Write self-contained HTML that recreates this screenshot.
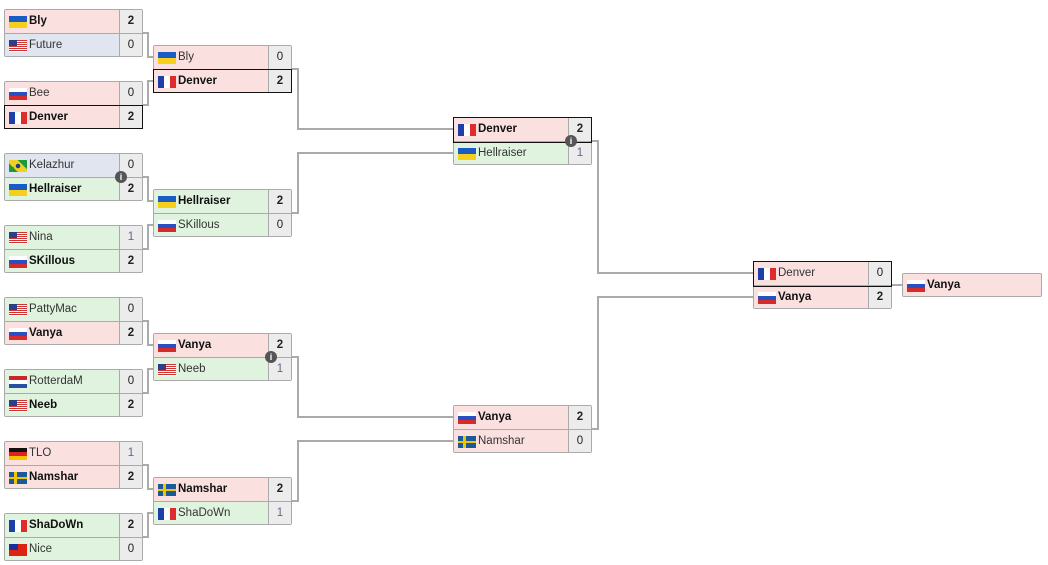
<!DOCTYPE html>
<html><head><meta charset="utf-8"><style>
body{margin:0;width:1048px;height:565px;background:#fff;position:relative;overflow:hidden;font-family:"Liberation Sans",sans-serif;font-size:11.5px;color:#222}
.m{position:absolute;width:139px;height:48px;border:1px solid #aaa;border-radius:2px;box-sizing:border-box;background:#eee}
.r{position:absolute;left:0;width:137px;height:23px;box-sizing:border-box}
.r1{top:0;border-bottom:1px solid #aaa;height:24px}
.r2{top:24px;height:22px}
.n{position:absolute;left:0;top:0;bottom:0;width:115px;line-height:23px;padding-left:24px;box-sizing:border-box;white-space:nowrap;color:#333}
.n.b{color:#111}
.s{position:absolute;right:0;top:0;bottom:0;width:22px;border-left:1px solid #aaa;background:#ececec;text-align:center;line-height:23px}
.b{font-weight:bold}
.P{background:#fbe0e0}.B{background:#e1e5f0}.G{background:#dff3df}
.hl{outline:1px solid #111;outline-offset:0;z-index:2}
.f{position:absolute;left:4px;top:6px;width:18px;height:12px}
.ua{background:linear-gradient(#1a5bc4 50%,#f5cf1a 50%)}
.ru{background:linear-gradient(#fff 33%,#2a4fc0 33%,#2a4fc0 66%,#d62b2b 66%)}
.fr{background:linear-gradient(90deg,#1e3fa8 33%,#fff 33%,#fff 66%,#e02b2b 66%)}
.nl{background:linear-gradient(#c9262b 33%,#fff 33%,#fff 66%,#2a4fa0 66%)}
.de{background:linear-gradient(#111 33%,#d22 33%,#d22 66%,#f3c200 66%)}
.us{background:linear-gradient(#2e3f8a,#2e3f8a) 0 0/8px 6px no-repeat,repeating-linear-gradient(#c33 0 1px,#fff 1px 2px)}
.se{background:linear-gradient(#f3c400,#f3c400) 5px 0/3px 12px no-repeat,linear-gradient(#f3c400,#f3c400) 0 5px/18px 2px no-repeat,#1a5a9a}
.tw{background:linear-gradient(#1e2f9a,#1e2f9a) 0 0/9px 6px no-repeat,#d21}
.br{background:radial-gradient(circle,#1a3a8a 2px,transparent 2.5px),linear-gradient(45deg,transparent 30%,#f0d020 30%,#f0d020 70%,transparent 70%) ,#1a9a3a}
.i{position:absolute;width:12px;height:12px;border-radius:50%;background:#555;color:#fff;font-size:9px;font-weight:bold;text-align:center;line-height:12px;z-index:3}
svg{position:absolute;left:0;top:0}
</style></head><body>
<svg width="1048" height="565"><g fill="none" stroke="#aaa" stroke-width="2">
<path d="M142 33H148V57H153M142 105H148V81H153"/>
<path d="M142 177H148V201H153M142 249H148V225H153"/>
<path d="M142 321H148V345H153M142 393H148V369H153"/>
<path d="M142 465H148V489H153M142 537H148V513H153"/>
<path d="M292 69H298V129H453M292 213H298V153H453"/>
<path d="M292 357H298V417H453M292 501H298V441H453"/>
<path d="M592 141H598V273H753M592 429H598V297H753"/>
<path d="M892 285H902"/>
</g></svg>

<div class="m" style="left:4px;top:9px"><div class="r r1 P"><div class="n b"><i class="f ua"></i>Bly</div><div class="s b">2</div></div><div class="r r2 B"><div class="n"><i class="f us"></i>Future</div><div class="s">0</div></div></div>
<div class="m" style="left:4px;top:81px"><div class="r r1 P"><div class="n"><i class="f ru"></i>Bee</div><div class="s">0</div></div><div class="r r2 P hl"><div class="n b"><i class="f fr"></i>Denver</div><div class="s b">2</div></div></div>
<div class="m" style="left:4px;top:153px"><div class="r r1 B"><div class="n"><i class="f br"></i>Kelazhur</div><div class="s">0</div></div><div class="r r2 G"><div class="n b"><i class="f ua"></i>Hellraiser</div><div class="s b">2</div></div></div>
<div class="m" style="left:4px;top:225px"><div class="r r1 G"><div class="n"><i class="f us"></i>Nina</div><div class="s" style="color:#668">1</div></div><div class="r r2 G"><div class="n b"><i class="f ru"></i>SKillous</div><div class="s b">2</div></div></div>
<div class="m" style="left:4px;top:297px"><div class="r r1 G"><div class="n"><i class="f us"></i>PattyMac</div><div class="s">0</div></div><div class="r r2 P"><div class="n b"><i class="f ru"></i>Vanya</div><div class="s b">2</div></div></div>
<div class="m" style="left:4px;top:369px"><div class="r r1 G"><div class="n"><i class="f nl"></i>RotterdaM</div><div class="s">0</div></div><div class="r r2 G"><div class="n b"><i class="f us"></i>Neeb</div><div class="s b">2</div></div></div>
<div class="m" style="left:4px;top:441px"><div class="r r1 P"><div class="n"><i class="f de"></i>TLO</div><div class="s" style="color:#668">1</div></div><div class="r r2 P"><div class="n b"><i class="f se"></i>Namshar</div><div class="s b">2</div></div></div>
<div class="m" style="left:4px;top:513px"><div class="r r1 G"><div class="n b"><i class="f fr"></i>ShaDoWn</div><div class="s b">2</div></div><div class="r r2 G"><div class="n"><i class="f tw"></i>Nice</div><div class="s">0</div></div></div>

<div class="m" style="left:153px;top:45px"><div class="r r1 P"><div class="n"><i class="f ua"></i>Bly</div><div class="s">0</div></div><div class="r r2 P hl"><div class="n b"><i class="f fr"></i>Denver</div><div class="s b">2</div></div></div>
<div class="m" style="left:153px;top:189px"><div class="r r1 G"><div class="n b"><i class="f ua"></i>Hellraiser</div><div class="s b">2</div></div><div class="r r2 G"><div class="n"><i class="f ru"></i>SKillous</div><div class="s">0</div></div></div>
<div class="m" style="left:153px;top:333px"><div class="r r1 P"><div class="n b"><i class="f ru"></i>Vanya</div><div class="s b">2</div></div><div class="r r2 G"><div class="n"><i class="f us"></i>Neeb</div><div class="s" style="color:#668">1</div></div></div>
<div class="m" style="left:153px;top:477px"><div class="r r1 P"><div class="n b"><i class="f se"></i>Namshar</div><div class="s b">2</div></div><div class="r r2 G"><div class="n"><i class="f fr"></i>ShaDoWn</div><div class="s" style="color:#668">1</div></div></div>

<div class="m" style="left:453px;top:117px"><div class="r r1 P hl"><div class="n b"><i class="f fr"></i>Denver</div><div class="s b">2</div></div><div class="r r2 G"><div class="n"><i class="f ua"></i>Hellraiser</div><div class="s" style="color:#668">1</div></div></div>
<div class="m" style="left:453px;top:405px"><div class="r r1 P"><div class="n b"><i class="f ru"></i>Vanya</div><div class="s b">2</div></div><div class="r r2 P"><div class="n"><i class="f se"></i>Namshar</div><div class="s">0</div></div></div>

<div class="m" style="left:753px;top:261px"><div class="r r1 P hl"><div class="n"><i class="f fr"></i>Denver</div><div class="s">0</div></div><div class="r r2 P"><div class="n b"><i class="f ru"></i>Vanya</div><div class="s b">2</div></div></div>

<div class="m" style="left:902px;top:273px;width:140px;height:24px;background:#fbe0e0"><div class="n b" style="width:138px"><i class="f ru"></i>Vanya</div></div>

<div class="i" style="left:115px;top:171px">i</div>
<div class="i" style="left:265px;top:351px">i</div>
<div class="i" style="left:565px;top:135px">i</div>
</body></html>
